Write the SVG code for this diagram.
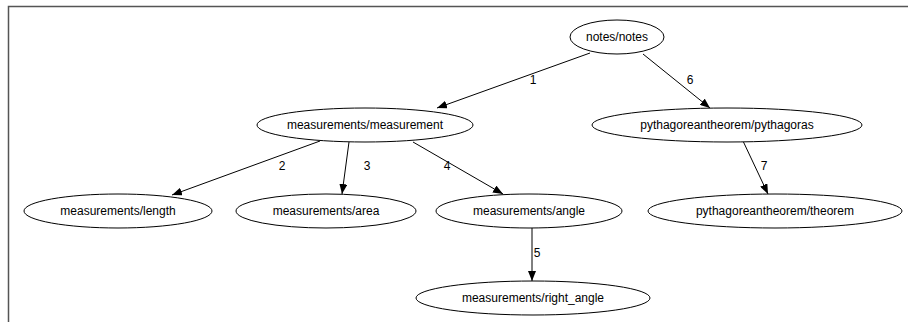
<svg xmlns="http://www.w3.org/2000/svg" width="908" height="322" viewBox="0 0 908 322">
<defs>
<style>
.n ellipse{fill:#fff;stroke:#000;stroke-width:1}
.n text{font-family:"Liberation Sans",Arial,sans-serif;font-size:12px;text-anchor:middle;fill:#000}
.e line{stroke:#000;stroke-width:1;marker-end:url(#ah)}
.e text{font-family:"Liberation Sans",Arial,sans-serif;font-size:12px;text-anchor:middle;fill:#000}
</style>
<marker id="ah" markerWidth="10" markerHeight="8" refX="10" refY="4" orient="auto" markerUnits="userSpaceOnUse">
<path d="M0,0 L10,4 L0,8 Z" fill="#000"/>
</marker>
</defs>
<rect width="908" height="322" fill="#fff"/>
<path d="M8.5,330 V6.5 H920" fill="none" stroke="#555" stroke-width="1.5"/>
<g class="e" id="edges">
<line x1="590" y1="53" x2="437" y2="108"/><text x="533" y="84">1</text>
<line x1="643" y1="54" x2="710" y2="108"/><text x="690" y="84">6</text>
<line x1="320" y1="141" x2="172" y2="195"/><text x="282" y="170">2</text>
<line x1="349" y1="142" x2="342" y2="194"/><text x="367" y="170">3</text>
<line x1="413" y1="142" x2="503" y2="194"/><text x="447" y="170">4</text>
<line x1="532" y1="227" x2="532" y2="281"/><text x="537" y="257">5</text>
<line x1="743" y1="141" x2="768" y2="194"/><text x="764" y="170">7</text>
</g>
<g class="n" id="n_notes"><ellipse cx="617" cy="37" rx="47" ry="17"/><text x="617" y="41">notes/notes</text></g>
<g class="n" id="n_measurement"><ellipse cx="365" cy="125" rx="108" ry="17"/><text x="365" y="129">measurements/measurement</text></g>
<g class="n" id="n_pythagoras"><ellipse cx="727" cy="125" rx="135" ry="17"/><text x="727" y="129">pythagoreantheorem/pythagoras</text></g>
<g class="n" id="n_length"><ellipse cx="118" cy="211" rx="94" ry="17"/><text x="118" y="215">measurements/length</text></g>
<g class="n" id="n_area"><ellipse cx="326" cy="211" rx="90" ry="17"/><text x="326" y="215">measurements/area</text></g>
<g class="n" id="n_angle"><ellipse cx="529" cy="211" rx="93" ry="17"/><text x="529" y="215">measurements/angle</text></g>
<g class="n" id="n_theorem"><ellipse cx="775" cy="211" rx="127" ry="17"/><text x="775" y="215">pythagoreantheorem/theorem</text></g>
<g class="n" id="n_right_angle"><ellipse cx="533" cy="298" rx="117" ry="17"/><text x="533" y="302">measurements/right_angle</text></g>
</svg>
